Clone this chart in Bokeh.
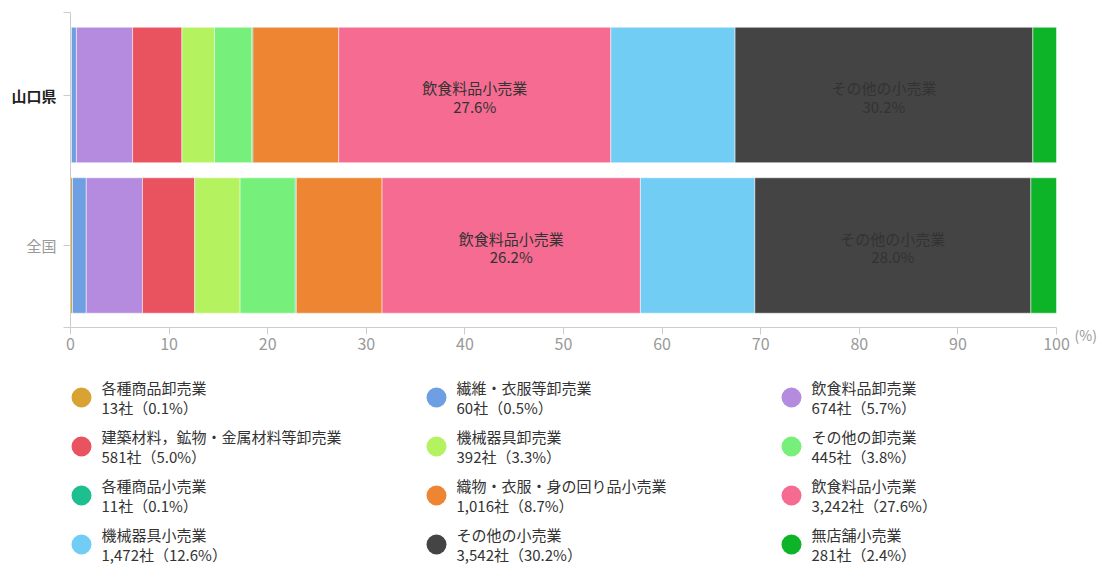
from bokeh.plotting import figure
from bokeh.layouts import column
from bokeh.models import Range1d, FixedTicker, CustomJSTickFormatter
from bokeh.embed import file_html
from bokeh.resources import INLINE
from bokeh.core.properties import value
import numpy as np

# ---------------- data ----------------
industries = ["各種商品卸売業", "繊維・衣服等卸売業", "飲食料品卸売業",
              "建築材料，鉱物・金属材料等卸売業", "機械器具卸売業", "その他の卸売業",
              "各種商品小売業", "織物・衣服・身の回り品小売業", "飲食料品小売業",
              "機械器具小売業", "その他の小売業", "無店舗小売業"]
yamaguchi_counts = [13, 60, 674, 581, 392, 445, 11, 1016, 3242, 1472, 3542, 281]
yamaguchi_pct = [0.1, 0.5, 5.7, 5.0, 3.3, 3.8, 0.1, 8.7, 27.6, 12.6, 30.2, 2.4]
national_pct = [0.2, 1.4, 5.7, 5.3, 4.6, 5.6, 0.1, 8.7, 26.2, 11.6, 28.0, 2.6]
regions = ["山口県", "全国"]
region_pos = [1, 0]
region_label_colors = ["#222222", "#999999"]
region_label_styles = ["bold", "normal"]
x_ticks = [0, 10, 20, 30, 40, 50, 60, 70, 80, 90, 100]
colors = ["#D9A334", "#6E9FE2", "#B58BE0", "#E9525F", "#B4F260", "#76F07B",
          "#1DBF8F", "#EE8532", "#F56B91", "#72CDF5", "#444444", "#0DB428"]

FONT = "Noto Sans CJK JP"

# ---------------- layout constants (pixels) ----------------
W = 1104
H1 = 356          # chart canvas height
H2 = 210          # legend canvas height
X0_PX, X100_PX = 70, 1056
Y1_PX, Y0_PX = 94.5, 245.0     # centres of the two bars
AXIS_BOTTOM_PX, AXIS_TOP_PX = 327, 12

ppx = (X100_PX - X0_PX) / 100.0
ppy = (Y0_PX - Y1_PX)
x_start = -X0_PX / ppx
x_end = (W - X0_PX) / ppx
y_start = -(H1 - Y0_PX) / ppy
y_end = 1 + Y1_PX / ppy
y_base = -(AXIS_BOTTOM_PX - Y0_PX) / ppy
y_top = 1 + (Y1_PX - AXIS_TOP_PX) / ppy

# ---------------- main chart ----------------
p = figure(width=W, height=H1, x_range=Range1d(x_start, x_end),
           y_range=Range1d(y_start, y_end),
           toolbar_location=None, output_backend="svg", min_border=0)
p.outline_line_color = None
p.xgrid.visible = False
p.ygrid.visible = False

for series_pct, ypos in zip([yamaguchi_pct, national_pct], region_pos):
    vals = np.array(series_pct, dtype=float)
    rights = np.cumsum(vals)
    lefts = rights - vals
    p.hbar(y=[ypos] * len(vals), left=lefts, right=rights, height=0.9,
           fill_color=colors, line_color="white", line_width=0.5)
    big = [i for i, v in enumerate(vals) if v >= 20]
    p.text(x=[(lefts[i] + rights[i]) / 2 for i in big], y=[ypos] * len(big),
           text=[f"{industries[i]}\n{vals[i]:.1f}%" for i in big],
           y_offset=2, text_align="center", text_baseline="middle",
           text_font=value(FONT), text_font_size="15px", text_color="#333333",
           text_line_height=0.9)

# x axis
xa = p.xaxis[0]
xa.fixed_location = y_base
xa.bounds = (0, 100)
xa.ticker = FixedTicker(ticks=x_ticks)
xa.major_tick_out = 7
xa.major_tick_in = 0
xa.minor_tick_out = 0
xa.minor_tick_in = 0
xa.axis_line_color = "#CCCCCC"
xa.major_tick_line_color = "#CCCCCC"
xa.major_label_text_color = "#999999"
xa.major_label_text_font = FONT
xa.major_label_text_font_size = "16px"
xa.major_label_standoff = 3

# y axis
ya = p.yaxis[0]
ya.fixed_location = 0
ya.bounds = (y_base, y_top)
ya.ticker = FixedTicker(ticks=[y_base, 0, 1, y_top])
ya.formatter = CustomJSTickFormatter(code="return ''")
ya.major_tick_out = 7
ya.major_tick_in = 0
ya.minor_tick_out = 0
ya.minor_tick_in = 0
ya.axis_line_color = "#CCCCCC"
ya.major_tick_line_color = "#CCCCCC"

# category labels
for name, ypos, col, sty in zip(regions, region_pos, region_label_colors, region_label_styles):
    p.text(x=[0], y=[ypos], text=[name], x_offset=-14,
           text_align="right", text_baseline="middle", text_font=value(FONT),
           text_font_size="15px", text_color=col, text_font_style=sty)

# unit label
p.text(x=[100], y=[y_base], text=["(%)"], x_offset=18, y_offset=7,
       text_align="left", text_baseline="middle", text_font=value(FONT),
       text_font_size="14px", text_color="#999999")

# ---------------- legend ----------------
lf = figure(width=W, height=H2, x_range=Range1d(0, W), y_range=Range1d(H2, 0),
            toolbar_location=None, output_backend="svg", min_border=0)
lf.axis.visible = False
lf.grid.visible = False
lf.outline_line_color = None

col_circle_x = [81, 436, 791]
col_text_x = [101, 456, 811]
row_y = [41, 90, 139, 188]
cx, cy, tx = [], [], []
for i in range(len(industries)):
    r, c = divmod(i, 3)
    cx.append(col_circle_x[c])
    tx.append(col_text_x[c])
    cy.append(row_y[r])
lf.scatter(x=cx, y=cy, size=20, marker="circle", fill_color=colors, line_color=None)
lf.text(x=tx, y=[v - 10 for v in cy], text=industries, text_align="left",
        text_baseline="middle", text_font=value(FONT), text_font_size="15px",
        text_color="#333333")
lf.text(x=tx, y=[v + 10 for v in cy],
        text=[f"{n:,}社（{q:.1f}%）" for n, q in zip(yamaguchi_counts, yamaguchi_pct)],
        text_align="left", text_baseline="middle", text_font=value(FONT),
        text_font_size="15px", text_color="#333333")

layout = column(p, lf)
open("out.html", "w").write(file_html(layout, INLINE))
